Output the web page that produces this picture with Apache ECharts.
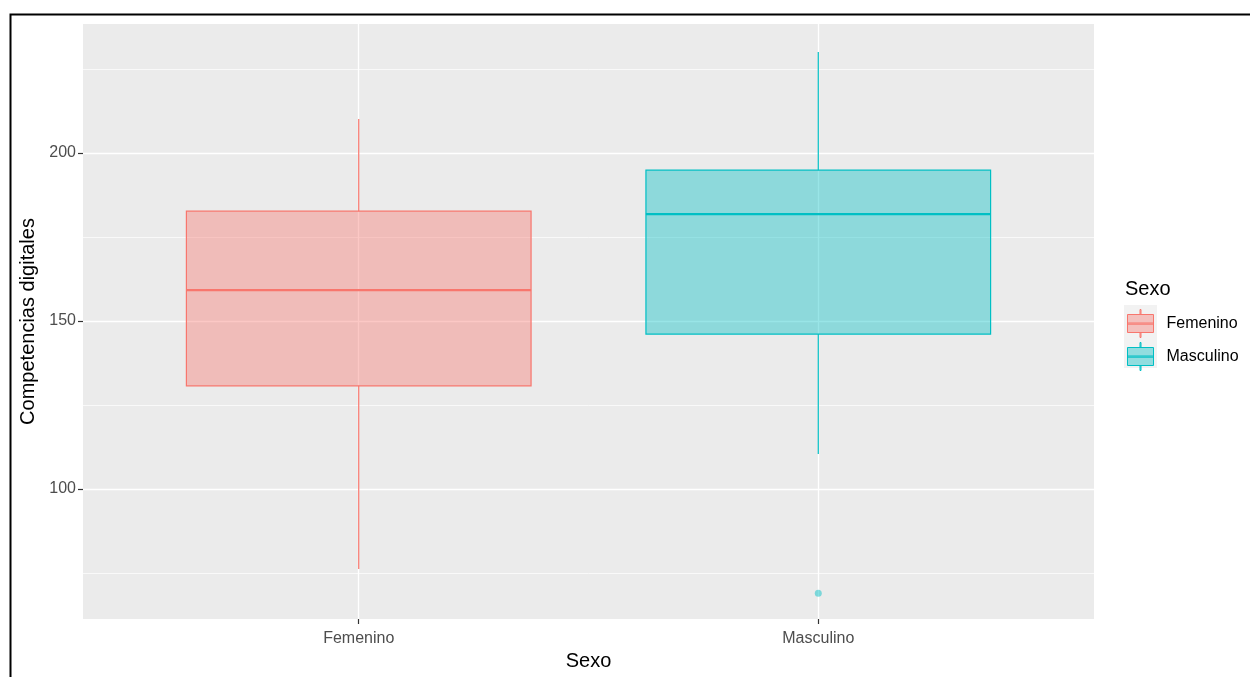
<!DOCTYPE html>
<html>
<head>
<meta charset="utf-8">
<title>Competencias digitales por sexo</title>
<script src="https://cdn.jsdelivr.net/npm/echarts@6/dist/echarts.min.js"></script>
<style>
  html, body { margin: 0; padding: 0; background: #fff; }
  #main { width: 1250px; height: 677px; }
</style>
</head>
<body>
<div id="main"></div>
<script>
// datos
var categories = ['Femenino', 'Masculino'];
var lowerWhisker = [76.2, 110.4];
var q1 = [130.7, 146.1];
var median = [159.2, 181.8];
var q3 = [182.7, 194.9];
var upperWhisker = [210.1, 230.1];
var outlierCategory = ['Masculino'];
var outlierValue = [69.0];

var majorTicks = [100, 150, 200];
var minorTicks = [75, 125, 175, 225];

var lineColors = ['#F8766D', '#00BFC4'];
var fillColors = ['rgba(248,118,109,0.4)', 'rgba(0,191,196,0.4)'];

var chart = echarts.init(document.getElementById('main'));

// caja estilo ggplot (sin remates en los bigotes)
function makeRender(k) {
  return function (params, api) {
    var x = api.value(0);
    var lo = api.coord([x, api.value(1)]);
    var b1 = api.coord([x, api.value(2)]);
    var md = api.coord([x, api.value(3)]);
    var b3 = api.coord([x, api.value(4)]);
    var hi = api.coord([x, api.value(5)]);
    var w = api.size([0.75, 0])[0];
    var stroke = lineColors[k];
    return {
      type: 'group',
      children: [
        { type: 'line', shape: { x1: hi[0], y1: hi[1], x2: b3[0], y2: b3[1] },
          style: { stroke: stroke, lineWidth: 1.2 } },
        { type: 'line', shape: { x1: b1[0], y1: b1[1], x2: lo[0], y2: lo[1] },
          style: { stroke: stroke, lineWidth: 1.2 } },
        { type: 'rect', shape: { x: b3[0] - w / 2, y: b3[1], width: w, height: b1[1] - b3[1] },
          style: { fill: fillColors[k], stroke: stroke, lineWidth: 1.2 } },
        { type: 'line', shape: { x1: md[0] - w / 2, y1: md[1], x2: md[0] + w / 2, y2: md[1] },
          style: { stroke: stroke, lineWidth: 2.4 } }
      ]
    };
  };
}

var series = [];

// lineas de la rejilla
var gridLines = [];
majorTicks.forEach(function (v) { gridLines.push({ yAxis: v, lineStyle: { width: 1.3 } }); });
minorTicks.forEach(function (v) { gridLines.push({ yAxis: v, lineStyle: { width: 0.7 } }); });
categories.forEach(function (c, i) { gridLines.push({ xAxis: i + 1, lineStyle: { width: 1.3 } }); });
series.push({
  type: 'line',
  name: 'grid',
  data: [],
  z: 0,
  silent: true,
  markLine: {
    z: 0,
    silent: true,
    symbol: ['none', 'none'],
    label: { show: false },
    lineStyle: { color: '#ffffff', type: 'solid' },
    data: gridLines
  }
});

categories.forEach(function (c, i) {
  series.push({
    type: 'custom',
    name: c,
    z: 3,
    itemStyle: { color: fillColors[i], borderColor: lineColors[i] },
    renderItem: makeRender(i),
    data: [[i + 1, lowerWhisker[i], q1[i], median[i], q3[i], upperWhisker[i]]]
  });
});

series.push({
  type: 'scatter',
  name: 'atipicos',
  z: 4,
  symbolSize: 7,
  itemStyle: { color: 'rgba(0,191,196,0.6)' },
  data: outlierCategory.map(function (c, j) {
    return [categories.indexOf(c) + 1, outlierValue[j]];
  })
});

var keyIcon = 'path://M12.5,0h1v5h-1z M0,5h26v18h-26z M0,13.5h26v1.2h-26z M12.5,23h1v5h-1z';

option = {
  backgroundColor: '#ffffff',
  animation: false,
  title: {
    text: 'Sexo',
    left: 1120,
    top: 274,
    textStyle: { fontFamily: 'Liberation Sans', fontSize: 20, fontWeight: 'normal', color: '#000' }
  },
  graphic: [
    { type: 'polyline', z: 100, silent: true,
      shape: { points: [[10.5, 700], [10.5, 14.5], [1300, 14.5]] },
      style: { stroke: '#000', lineWidth: 2, fill: null } },
    { type: 'rect', z: -1, silent: true,
      shape: { x: 1124, y: 305, width: 33, height: 63 },
      style: { fill: '#F2F2F2' } }
  ],
  legend: {
    orient: 'vertical',
    left: 1127,
    top: 309,
    padding: 0,
    itemWidth: 26,
    itemHeight: 28,
    itemGap: 4,
    selectedMode: false,
    textStyle: { fontFamily: 'Liberation Sans', fontSize: 16, color: '#000', padding: [0, 0, 0, 8] },
    data: categories.map(function (c, i) {
      return { name: c, icon: keyIcon,
        itemStyle: { color: fillColors[i], borderColor: lineColors[i], borderWidth: 1 } };
    })
  },
  grid: {
    left: 83,
    right: 156,
    top: 24,
    bottom: 58,
    show: true,
    backgroundColor: '#EBEBEB',
    borderWidth: 0
  },
  xAxis: {
    type: 'value',
    min: 0.4,
    max: 2.6,
    name: 'Sexo',
    nameLocation: 'middle',
    nameGap: 32,
    nameTextStyle: { fontFamily: 'Liberation Sans', fontSize: 20, color: '#000' },
    axisLine: { show: false },
    axisTick: { show: true, length: 5, customValues: [1, 2], lineStyle: { color: '#333', width: 1.2 } },
    axisLabel: {
      customValues: [1, 2],
      margin: 12,
      fontFamily: 'Liberation Sans',
      fontSize: 16,
      color: '#4D4D4D',
      formatter: function (v) { return categories[Math.round(v) - 1] || ''; }
    },
    splitLine: { show: false }
  },
  yAxis: {
    type: 'value',
    min: 61.3,
    max: 238.4,
    name: 'Competencias digitales',
    nameLocation: 'middle',
    nameGap: 35,
    nameTextStyle: { fontFamily: 'Liberation Sans', fontSize: 20, color: '#000' },
    axisLine: { show: false },
    axisTick: { show: true, length: 5, customValues: majorTicks, lineStyle: { color: '#333', width: 1.2 } },
    axisLabel: {
      customValues: majorTicks,
      margin: 7,
      fontFamily: 'Liberation Sans',
      fontSize: 16,
      color: '#4D4D4D'
    },
    splitLine: { show: false }
  },
  series: series
};
chart.setOption(option);
</script>
</body>
</html>
